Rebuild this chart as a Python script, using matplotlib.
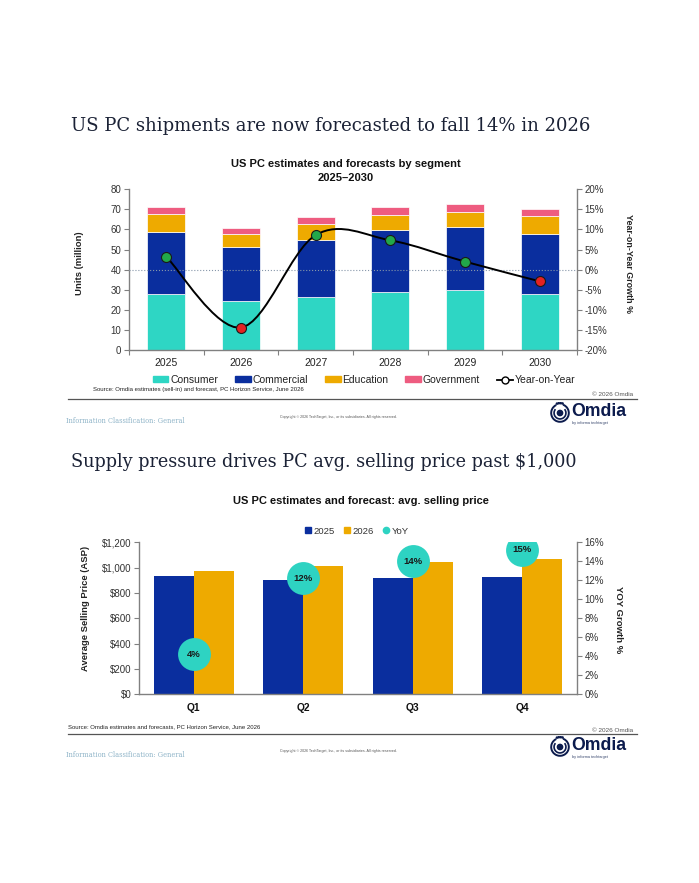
import numpy as np
import matplotlib
matplotlib.use("Agg")
import matplotlib.pyplot as plt
from matplotlib.patches import Patch, PathPatch, Arc, Circle
from matplotlib.lines import Line2D
from matplotlib.path import Path
from matplotlib.ticker import FuncFormatter

plt.rcParams['font.family'] = ['Liberation Sans', 'DejaVu Sans']

# ---------------- data ----------------
years = ['2025', '2026', '2027', '2028', '2029', '2030']
consumer = [27.7, 24.4, 26.4, 29.0, 29.7, 27.7]
commercial = [31.0, 26.8, 28.5, 30.7, 31.3, 29.9]
education = [9.1, 6.5, 7.8, 7.6, 7.5, 9.1]
government = [3.5, 3.2, 3.6, 4.0, 4.1, 3.6]
yoy_pct = [3.2, -14.4, 8.6, 7.3, 2.0, -2.9]

quarters = ['Q1', 'Q2', 'Q3', 'Q4']
asp_2025 = [934, 905, 916, 928]
asp_2026 = [976, 1015, 1047, 1070]
asp_yoy = [4.2, 12.2, 14.0, 15.2]

# ---------------- style ----------------
W, H = 699, 883
C_CONS = '#2ED6C4'
C_COMM = '#0A2E9E'
C_EDU = '#EEAA00'
C_GOV = '#EE5C80'
C_POS = '#22A84A'
C_NEG = '#E42222'
C_BUB = '#2ED3C2'
SPINE = '#808080'
TXT = '#333333'
NAVY = '#0c1b4d'

fig = plt.figure(figsize=(W / 100, H / 100), dpi=100)
fig.patch.set_facecolor('white')
renderer = fig.canvas.get_renderer()


def fx(x):
    return x / W


def fy(y):
    return 1 - y / H


def fit_text(x0, yc, s, width_px, ha='left', **kw):
    t = fig.text(fx(x0), fy(yc), s, va='center', ha=ha, fontsize=10, **kw)
    w = t.get_window_extent(renderer).width
    t.set_fontsize(10 * width_px / w)
    return t


def style_axes(ax, axr):
    for a in (ax, axr):
        a.spines['top'].set_visible(False)
        for s in ('left', 'right', 'bottom'):
            a.spines[s].set_color(SPINE)
            a.spines[s].set_linewidth(1.0)
    ax.spines['right'].set_visible(False)
    axr.spines['left'].set_visible(False)
    axr.spines['bottom'].set_visible(False)
    ax.tick_params(axis='y', direction='out', length=3.5, width=0.8, color=SPINE,
                   labelsize=7, labelcolor=TXT, pad=2)
    axr.tick_params(axis='y', direction='out', length=3.5, width=0.8, color=SPINE,
                    labelsize=7, labelcolor=TXT, pad=2)


def footer(y_line, src, x_src, y_src, y_copy, y_info, y_cr, y_logo):
    fig.add_artist(Line2D([fx(68), fx(637)], [fy(y_line), fy(y_line)],
                          transform=fig.transFigure, color='#555555', lw=0.9))
    fig.text(fx(x_src), fy(y_src), src, fontsize=4.3, color='#222222',
             va='center', ha='left')
    fig.text(fx(633), fy(y_copy), '\u00a9 2026 Omdia', fontsize=4.6, color='#555555',
             va='center', ha='right')
    fig.text(fx(66), fy(y_info), 'Information Classification: General', fontsize=4.8,
             color='#8fb4c8', family='DejaVu Serif', va='center', ha='left')
    fig.text(fx(338), fy(y_cr),
             'Copyright \u00a9 2026 TechTarget, Inc., or its subsidiaries. All rights reserved.',
             fontsize=2.6, color='#555555', va='center', ha='center')
    # logo icon
    lax = fig.add_axes([fx(549), fy(y_logo + 11), 22 / W, 22 / H])
    lax.set_xlim(-1.25, 1.25)
    lax.set_ylim(-1.25, 1.25)
    lax.set_aspect('equal')
    lax.axis('off')
    lax.add_patch(Arc((0, 0), 2.0, 2.0, theta1=115, theta2=430, color=NAVY, lw=1.4))
    lax.add_patch(Arc((0, 0), 1.35, 1.35, theta1=140, theta2=400, color=NAVY, lw=1.2))
    lax.add_patch(Circle((0, 0), 0.3, color=NAVY))
    for ang in np.linspace(75, 108, 4):
        lax.add_patch(Circle((1.12 * np.cos(np.radians(ang)), 1.12 * np.sin(np.radians(ang))),
                             0.07, color=NAVY))
    fit_text(571, y_logo - 1, 'Omdia', 55, fontweight='bold', color=NAVY)
    fig.text(fx(572), fy(y_logo + 10), 'by informa techtarget', fontsize=2.8,
             color='#3b4a70', va='center', ha='left')


# ---------------- Panel 1 ----------------
fit_text(71, 126, 'US PC shipments are now forecasted to fall 14% in 2026', 519,
         family='DejaVu Serif', color='#1b2236')
fig.text(fx(346), fy(164), 'US PC estimates and forecasts by segment', fontsize=8,
         fontweight='bold', ha='center', va='center', color='#111111')
fig.text(fx(346), fy(178), '2025\u20132030', fontsize=8,
         fontweight='bold', ha='center', va='center', color='#111111')

ax1 = fig.add_axes([fx(129), fy(350), 448 / W, 160.7 / H])
ax1r = ax1.twinx()
x = np.arange(len(years))
bw = 0.51
bottom = np.zeros(len(years))
for vals, col in ((consumer, C_CONS), (commercial, C_COMM), (education, C_EDU),
                  (government, C_GOV)):
    ax1.bar(x, vals, bw, bottom=bottom, color=col, edgecolor='white', linewidth=0.5,
            zorder=2)
    bottom += np.array(vals)
ax1.set_xlim(-0.5, len(years) - 0.5)
ax1.set_ylim(0, 80)
ax1.set_yticks(np.arange(0, 81, 10))
ax1.set_xticks(x)
ax1.set_xticklabels(years)
ax1.set_xticks(np.arange(-0.5, len(years), 1), minor=True)
ax1.tick_params(axis='x', which='major', length=0, labelsize=7.5, labelcolor='#222222',
                pad=6)
ax1.tick_params(axis='x', which='minor', length=3.5, width=0.8, color=SPINE)

ax1r.set_ylim(-20, 20)
ax1r.set_yticks(np.arange(-20, 21, 5))
ax1r.yaxis.set_major_formatter(FuncFormatter(lambda v, p: f'{v:.0f}%'))
style_axes(ax1, ax1r)
ax1r.axhline(0, color='#8797aa', ls=':', lw=0.8, zorder=1)

# smoothed YoY line (Catmull-Rom style Bezier through the data points)
pts = np.column_stack([x, yoy_pct]).astype(float)
verts = [tuple(pts[0])]
codes = [Path.MOVETO]
n = len(pts)
for i in range(n - 1):
    p0 = pts[max(i - 1, 0)]
    p1 = pts[i]
    p2 = pts[i + 1]
    p3 = pts[min(i + 2, n - 1)]
    c1 = p1 + (p2 - p0) / 6
    c2 = p2 - (p3 - p1) / 6
    verts += [tuple(c1), tuple(c2), tuple(p2)]
    codes += [Path.CURVE4] * 3
ax1r.add_patch(PathPatch(Path(verts, codes), fill=False, edgecolor='black', lw=1.4,
                         zorder=3))
for xi, yi in zip(x, yoy_pct):
    ax1r.plot(xi, yi, 'o', ms=7.2, mfc=C_POS if yi >= 0 else C_NEG, mec='#1a1a1a',
              mew=0.8, zorder=4)

fig.text(fx(80), fy(263), 'Units (million)', rotation=90, fontsize=6.8,
         fontweight='bold', ha='center', va='center', color='#222222')
fig.text(fx(628), fy(264), 'Year-on-Year Growth %', rotation=-90, fontsize=6.4,
         fontweight='bold', ha='center', va='center', color='#222222')

handles1 = [Patch(color=C_CONS, label='Consumer'), Patch(color=C_COMM, label='Commercial'),
            Patch(color=C_EDU, label='Education'), Patch(color=C_GOV, label='Government'),
            Line2D([0], [0], color='black', lw=1.3, marker='o', ms=5, mfc='white',
                   mec='black', label='Year-on-Year')]
fig.legend(handles=handles1, loc='center', bbox_to_anchor=(fx(364), fy(380)), ncol=5,
           frameon=False, fontsize=7.5, handlelength=1.5, handleheight=0.55,
           handletextpad=0.2, columnspacing=1.6, borderpad=0, labelcolor='#222222')

footer(399, 'Source: Omdia estimates (sell-in) and forecast, PC Horizon Service, June 2026',
       93, 389, 395, 421, 417, 413)

# ---------------- Panel 2 ----------------
fit_text(71, 462, 'Supply pressure drives PC avg. selling price past $1,000', 509,
         family='DejaVu Serif', color='#1b2236')
fig.text(fx(361), fy(501), 'US PC estimates and forecast: avg. selling price', fontsize=8,
         fontweight='bold', ha='center', va='center', color='#111111')

ax2 = fig.add_axes([fx(139), fy(694.3), 438 / W, 152 / H])
ax2r = ax2.twinx()
q = np.arange(len(quarters))
bw2 = 0.365
ax2.bar(q - bw2 / 2, asp_2025, bw2, color=C_COMM, label='2025', zorder=2)
ax2.bar(q + bw2 / 2, asp_2026, bw2, color=C_EDU, label='2026', zorder=2)
ax2.set_xlim(-0.5, len(quarters) - 0.5)
ax2.set_ylim(0, 1200)
ax2.set_yticks(np.arange(0, 1201, 200))
ax2.yaxis.set_major_formatter(FuncFormatter(lambda v, p: f'${v:,.0f}'))
ax2.set_xticks(q)
ax2.set_xticklabels(quarters, fontweight='bold')
ax2.tick_params(axis='x', length=0, labelsize=7.4, labelcolor='#111111', pad=6)
ax2r.set_ylim(0, 16)
ax2r.set_yticks(np.arange(0, 17, 2))
ax2r.yaxis.set_major_formatter(FuncFormatter(lambda v, p: f'{v:.0f}%'))
style_axes(ax2, ax2r)
ax2r.scatter(q, asp_yoy, s=560, color=C_BUB, zorder=4, linewidths=0)
for qi, v in zip(q, asp_yoy):
    ax2r.text(qi, v, f'{v:.0f}%', ha='center', va='center', fontsize=6.8,
              fontweight='bold', color='#1a1a1a', zorder=5)

fig.text(fx(85), fy(608), 'Average Selling Price (ASP)', rotation=90, fontsize=6.8,
         fontweight='bold', ha='center', va='center', color='#222222')
fig.text(fx(618), fy(620), 'YOY Growth %', rotation=-90, fontsize=6.8,
         fontweight='bold', ha='center', va='center', color='#222222')

handles2 = [Patch(color=C_COMM, label='2025'), Patch(color=C_EDU, label='2026'),
            Line2D([0], [0], ls='none', marker='o', ms=4.5, mfc=C_BUB, mec=C_BUB,
                   label='YoY')]
fig.legend(handles=handles2, loc='center', bbox_to_anchor=(fx(357), fy(531)), ncol=3,
           frameon=False, fontsize=6.8, handlelength=0.6, handleheight=0.6,
           handletextpad=0.3, columnspacing=1.0, borderpad=0, labelcolor='#333333')

footer(733.5, 'Source: Omdia estimates and forecasts, PC Horizon Service, June 2026',
       68, 727, 730, 755, 751, 747)

fig.savefig('out.png', dpi=100)
